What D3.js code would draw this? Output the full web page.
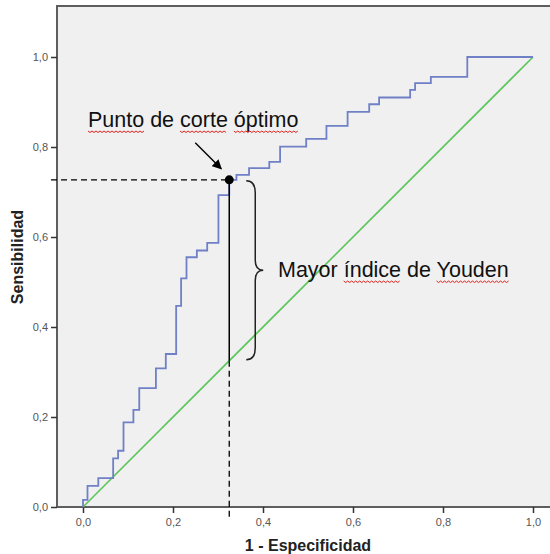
<!DOCTYPE html>
<html>
<head>
<meta charset="utf-8">
<script src="https://cdn.jsdelivr.net/npm/d3@7"></script>
<style>
  body { margin: 0; background: #fff; }
  svg { display: block; }
</style>
</head>
<body>
<svg id="roc" width="550" height="554"></svg>
<script>
// ROC staircase corners (1 - especificidad, sensibilidad)
let fpr = [0, 0.010, 0.034, 0.067, 0.078, 0.090, 0.112, 0.125, 0.162, 0.184, 0.207, 0.218,
           0.230, 0.253, 0.276, 0.301, 0.325, 0.341, 0.369, 0.414, 0.438, 0.496, 0.541,
           0.588, 0.636, 0.658, 0.727, 0.738, 0.773, 0.854, 1.0];
let tpr = [0, 0.016, 0.047, 0.064, 0.108, 0.125, 0.188, 0.216, 0.264, 0.308, 0.340, 0.447,
           0.508, 0.555, 0.570, 0.587, 0.693, 0.727, 0.738, 0.753, 0.767, 0.801, 0.818,
           0.847, 0.878, 0.895, 0.910, 0.927, 0.942, 0.956, 1.0];
let refLine = [0, 1];
let ticks = [0, 0.2, 0.4, 0.6, 0.8, 1.0];
let cutX = 0.325, cutY = 0.727;

let fontFamily = "'Liberation Sans', Arial, sans-serif";
let blueColor = "#6f80c6";
let greenColor = "#5cc65c";

let svg = d3.select("#roc");

let x = d3.scaleLinear().domain([0, 1]).range([83, 533]);
let y = d3.scaleLinear().domain([0, 1]).range([507, 57]);

// plot frame
svg.append("rect")
  .attr("x", 57)
  .attr("y", 6)
  .attr("width", 600)
  .attr("height", y(0) - 6)
  .style("fill", "#f0f0f0")
  .style("stroke", "#5e5e5e")
  .style("stroke-width", 2);

// axes
let yAxis = d3.axisLeft(y).tickValues(ticks).tickSize(6).tickPadding(3)
  .tickFormat(d => d3.format(".1f")(d).replace(".", ","));
let xAxis = d3.axisBottom(x).tickValues(ticks).tickSize(6).tickPadding(5)
  .tickFormat(d => d3.format(".1f")(d).replace(".", ","));

let gy = svg.append("g").attr("transform", "translate(57,0)").call(yAxis);
let gx = svg.append("g").attr("transform", "translate(0," + y(0) + ")").call(xAxis);
[gx, gy].forEach(g => {
  g.select(".domain").remove();
  g.selectAll("line").style("stroke", "#333").style("stroke-width", 1.5);
  g.selectAll("text")
    .style("font-family", fontFamily)
    .style("font-size", "11px")
    .style("fill", "#555");
});

// axis titles
svg.append("text")
  .attr("x", 308)
  .attr("y", 551)
  .text("1 - Especificidad")
  .style("text-anchor", "middle")
  .style("font-family", fontFamily)
  .style("font-weight", "bold")
  .style("font-size", "16px")
  .style("fill", "#222");

svg.append("text")
  .attr("transform", "translate(23," + 257 + ") rotate(-90)")
  .text("Sensibilidad")
  .style("text-anchor", "middle")
  .style("font-family", fontFamily)
  .style("font-weight", "bold")
  .style("font-size", "16px")
  .style("fill", "#222");

// reference diagonal
svg.append("line")
  .attr("x1", x(refLine[0])).attr("y1", y(refLine[0]))
  .attr("x2", x(refLine[1])).attr("y2", y(refLine[1]))
  .style("stroke", greenColor)
  .style("stroke-width", 1.6);

// ROC curve
let rocData = fpr.map((d, i) => [d, tpr[i]]);
let line = d3.line()
  .x(d => x(d[0]))
  .y(d => y(d[1]))
  .curve(d3.curveStepBefore);

svg.append("path")
  .datum(rocData)
  .attr("d", line)
  .style("fill", "none")
  .style("stroke", blueColor)
  .style("stroke-width", 1.8);

// cut-off guides
svg.append("line")
  .attr("x1", 51).attr("x2", x(cutX))
  .attr("y1", y(cutY)).attr("y2", y(cutY))
  .style("stroke", "#000")
  .style("stroke-width", 1.3)
  .style("stroke-dasharray", "6,4");

svg.append("line")
  .attr("x1", x(cutX)).attr("x2", x(cutX))
  .attr("y1", y(cutY)).attr("y2", y(cutX))
  .style("stroke", "#000")
  .style("stroke-width", 1.5);

svg.append("line")
  .attr("x1", x(cutX)).attr("x2", x(cutX))
  .attr("y1", y(cutX)).attr("y2", y(0) + 11)
  .style("stroke", "#000")
  .style("stroke-width", 1.3)
  .style("stroke-dasharray", "6,4");

svg.append("circle")
  .attr("cx", x(cutX))
  .attr("cy", y(cutY))
  .attr("r", 4.5)
  .style("fill", "#000");

// arrow to the cut-off point
svg.append("defs").append("marker")
  .attr("id", "arrowhead")
  .attr("viewBox", "0 0 10 10")
  .attr("refX", 9).attr("refY", 5)
  .attr("markerWidth", 7).attr("markerHeight", 7)
  .attr("orient", "auto")
  .append("path")
  .attr("d", "M0,0 L10,5 L0,10 z")
  .style("fill", "#000");

svg.append("line")
  .attr("x1", x(cutX) - 34).attr("y1", y(cutY) - 37)
  .attr("x2", x(cutX) - 8).attr("y2", y(cutY) - 11)
  .style("stroke", "#000")
  .style("stroke-width", 1.4)
  .attr("marker-end", "url(#arrowhead)");

// curly brace between curve and diagonal
let bx = x(cutX) + 26, braceTop = y(cutY) + 1, braceBot = y(cutX) - 1;
let braceMid = (braceTop + braceBot) / 2;
svg.append("path")
  .attr("d", "M" + (bx - 9) + "," + braceTop +
    " Q" + bx + "," + braceTop + " " + bx + "," + (braceTop + 12) +
    " L" + bx + "," + (braceMid - 10) +
    " Q" + bx + "," + braceMid + " " + (bx + 8) + "," + braceMid +
    " Q" + bx + "," + braceMid + " " + bx + "," + (braceMid + 10) +
    " L" + bx + "," + (braceBot - 12) +
    " Q" + bx + "," + braceBot + " " + (bx - 9) + "," + braceBot)
  .style("fill", "none")
  .style("stroke", "#222")
  .style("stroke-width", 1.5);

// annotation texts with spell-check squiggles
function annotate(txt, tx, ty, words) {
  let t = svg.append("text")
    .attr("x", tx)
    .attr("y", ty)
    .text(txt)
    .style("font-family", fontFamily)
    .style("font-size", "21.5px")
    .style("fill", "#111");
  let node = t.node();
  words.forEach(w => {
    let i = txt.indexOf(w);
    let x0 = node.getStartPositionOfChar(i).x;
    let x1 = node.getEndPositionOfChar(i + w.length - 1).x;
    let pts = [];
    for (let px = x0, k = 0; px <= x1; px += 2, k++) {
      pts.push([px, ty + 4 + (k % 2 ? 1.5 : 0)]);
    }
    svg.append("path")
      .attr("d", d3.line()(pts))
      .style("fill", "none")
      .style("stroke", "#e0201a")
      .style("stroke-width", 1);
  });
}

annotate("Punto de corte óptimo", 88, 127, ["Punto", "corte", "óptimo"]);
annotate("Mayor índice de Youden", 278, 277, ["índice", "Youden"]);
</script>
</body>
</html>
